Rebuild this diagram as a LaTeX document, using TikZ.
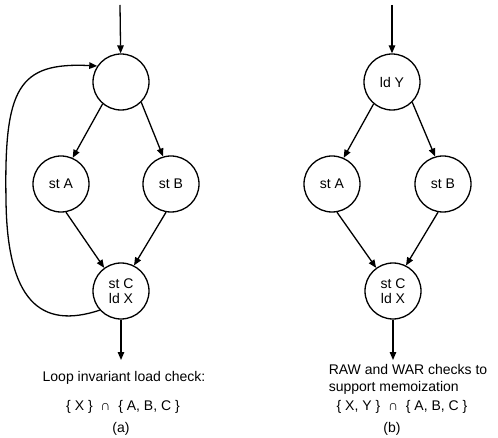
\documentclass[tikz,border=0pt]{standalone}
\usepackage{fontspec}
\setmainfont{Liberation Sans}
\usetikzlibrary{arrows.meta, positioning}

\begin{document}
\begin{tikzpicture}[
        x=1pt, y=-1pt,
        op/.style={draw, circle, line width=1.3pt, minimum size=56pt, inner sep=0pt, align=center, font=\fontsize{14}{15}\selectfont},
        txt/.style={font=\fontsize{14}{17}\selectfont, inner sep=0pt},
        arrow/.style={-{Triangle[length=8pt, width=6.5pt]}, line width=1.3pt}
    ]
        \useasboundingbox (0,0) rectangle (498,438);

        % (a) loop
        \node[op] (a0) at (121, 82) {};
        \node[op] (aA) at (61, 184) {st A};
        \node[op] (aB) at (171, 184) {st B};
        \node[op] (aC) at (121, 291) {st C\\ld X};
        \coordinate (ain) at (120, 5);
        \coordinate (aout) at (121, 360);

        \draw[arrow] (ain) -- (a0);
        \draw[arrow] (a0.230) -- (aA.66);
        \draw[arrow] (a0.315) -- (aB.106);
        \draw[arrow] (aA.280) -- (aC.126);
        \draw[arrow] (aB.260) -- (aC.63);
        \draw[arrow] (aC) -- (aout);
        \draw[arrow] (aC.222) .. controls (40, 330) and (7, 300) .. (6, 200)
            .. controls (4, 88) and (18, 62) .. (a0.146);

        \node[txt] (acheck) at (124, 378) {Loop invariant load check:};
        \node[txt] (aset) at (123, 407) {\{ X \}\ \ ∩\ \ \{ A, B, C \}};
        \node[txt] (alabel) at (121, 429) {(a)};

        % (b) memoization
        \node[op] (b0) at (392, 82) {ld Y};
        \node[op] (bA) at (332, 184) {st A};
        \node[op] (bB) at (443, 184) {st B};
        \node[op] (bC) at (393, 291) {st C\\ld X};
        \coordinate (bin) at (392, 5);
        \coordinate (bout) at (393, 360);

        \draw[arrow] (bin) -- (b0);
        \draw[arrow] (b0.230) -- (bA.66);
        \draw[arrow] (b0.315) -- (bB.106);
        \draw[arrow] (bA.280) -- (bC.126);
        \draw[arrow] (bB.260) -- (bC.63);
        \draw[arrow] (bC) -- (bout);

        \node[txt, align=left] (bcheck) at (408, 379) {RAW and WAR checks to\\support memoization};
        \node[txt] (bset) at (402, 407) {\{ X, Y \}\ \ ∩\ \ \{ A, B, C \}};
        \node[txt] (blabel) at (392, 429) {(b)};
    \end{tikzpicture}
\end{document}
